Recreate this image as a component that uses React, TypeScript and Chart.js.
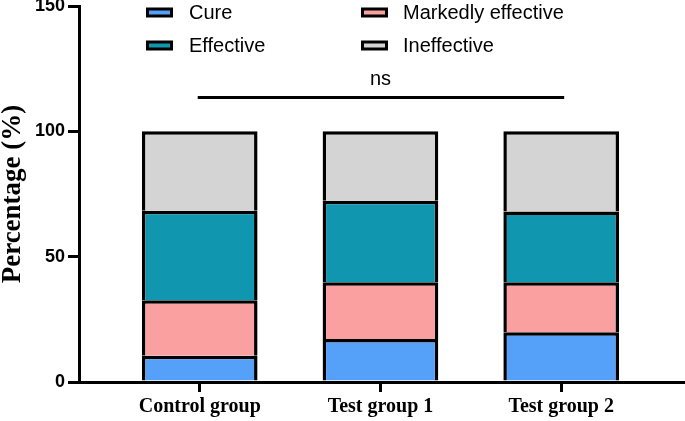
import React, { useEffect, useRef } from "react";
import { Chart, registerables } from "chart.js";

Chart.register(...registerables);

const categories = ["Control group", "Test group 1", "Test group 2"];
const seriesNames = ["Cure", "Markedly effective", "Effective", "Ineffective"];
const cure = [10.5, 17.2, 19.8];
const markedly = [22.1, 22.6, 20.0];
const effective = [35.7, 32.5, 28.2];
const ineffective = [31.7, 27.7, 32.0];
const seriesColors = ["#55A0F9", "#FBA0A0", "#1096AE", "#D4D4D4"];
const yTicks = [0, 50, 100, 150];
const sigLabel = "ns";
const sigY = 113.5;
const sigTextY = 120.5;

const seriesValues = [cure, markedly, effective, ineffective];

const legendPlugin = {
  id: "customLegend",
  afterDraw(chart: any) {
    const ctx = chart.ctx;
    const colBox = [146, 361];
    const colText = [189, 403];
    const rowY = [12.5, 45.5];
    ctx.save();
    chart.data.datasets.forEach((ds: any, i: number) => {
      const col = i % 2;
      const row = Math.floor(i / 2);
      const bx = colBox[col];
      const by = rowY[row] - 5;
      ctx.fillStyle = "#000";
      ctx.fillRect(bx, by, 27, 10);
      ctx.fillStyle = ds.backgroundColor;
      ctx.fillRect(bx + 3, by + 3, 21, 4);
      ctx.fillStyle = "#000";
      ctx.font = "20px 'Liberation Sans', Arial, sans-serif";
      ctx.textAlign = "left";
      ctx.textBaseline = "middle";
      ctx.fillText(ds.label, colText[col], rowY[row] + 1);
    });
    ctx.restore();
  },
};

const sigPlugin = {
  id: "sigLine",
  afterDraw(chart: any) {
    const ctx = chart.ctx;
    const xs = chart.scales.x;
    const ys = chart.scales.y;
    const x0 = xs.getPixelForValue(0);
    const x2 = xs.getPixelForValue(categories.length - 1);
    const y = ys.getPixelForValue(sigY);
    ctx.save();
    ctx.strokeStyle = "#000";
    ctx.lineWidth = 3;
    ctx.beginPath();
    ctx.moveTo(x0 - 2, y);
    ctx.lineTo(x2 + 3, y);
    ctx.stroke();
    ctx.fillStyle = "#000";
    ctx.font = "20px 'Liberation Sans', Arial, sans-serif";
    ctx.textAlign = "center";
    ctx.textBaseline = "middle";
    ctx.fillText(sigLabel, xs.getPixelForValue(1), ys.getPixelForValue(sigTextY));
    ctx.restore();
  },
};

export default function App() {
  const ref = useRef<HTMLCanvasElement>(null);
  useEffect(() => {
    document.body.style.margin = "0";
    const datasets = seriesNames.map((name, si) => ({
      label: name,
      data: seriesValues[si].map((v, i) => ({ x: i, y: v })),
      backgroundColor: seriesColors[si],
      borderColor: "#000",
      borderWidth: 3.5,
      barPercentage: 0.64,
      categoryPercentage: 1,
    }));
    const chart = new Chart(ref.current as HTMLCanvasElement, {
      type: "bar",
      data: { datasets },
      options: {
        animation: false,
        responsive: false,
        layout: { padding: { top: 6, right: 2, left: 0, bottom: 0 } },
        plugins: { legend: { display: false }, tooltip: { enabled: false } },
        scales: {
          x: {
            type: "linear",
            stacked: true,
            offset: false,
            min: -0.668,
            max: 2.674,
            afterBuildTicks: (scale: any) => {
              scale.ticks = categories.map((_, i) => ({ value: i }));
            },
            afterFit: (scale: any) => {
              scale.height = 39;
              scale.paddingLeft = 0;
              scale.paddingRight = 0;
            },
            grid: {
              offset: false,
              drawOnChartArea: false,
              drawTicks: true,
              tickLength: 10,
              lineWidth: 3,
              color: "#000",
            },
            border: { display: true, width: 3, color: "#000" },
            ticks: {
              autoSkip: false,
              maxRotation: 0,
              padding: 3,
              color: "#000",
              font: { family: "'Liberation Serif', 'Times New Roman', serif", size: 20, weight: "bold" },
              callback: (v: any) => categories[Math.round(Number(v))] ?? "",
            },
          },
          y: {
            stacked: true,
            min: 0,
            max: 150,
            afterBuildTicks: (scale: any) => {
              scale.ticks = yTicks.map((v) => ({ value: v }));
            },
            afterFit: (scale: any) => {
              scale.width = 79;
              scale.paddingTop = 0;
              scale.paddingBottom = 0;
            },
            grid: {
              drawOnChartArea: false,
              drawTicks: true,
              tickLength: 11,
              lineWidth: 3,
              color: "#000",
            },
            border: { display: true, width: 3, color: "#000" },
            ticks: {
              padding: 3,
              color: "#000",
              font: { family: "'Liberation Sans', Arial, sans-serif", size: 18, weight: "bold" },
            },
            title: {
              display: true,
              text: "Percentage (%)",
              color: "#000",
              padding: { top: 0, bottom: 0 },
              font: { family: "'Liberation Serif', 'Times New Roman', serif", size: 27, weight: "bold", lineHeight: 1 },
            },
          },
        },
      },
      plugins: [legendPlugin, sigPlugin],
    } as any);
    return () => chart.destroy();
  }, []);
  return (
    <div style={{ width: 685, height: 421, background: "#fff" }}>
      <canvas ref={ref} width={685} height={421} />
    </div>
  );
}
